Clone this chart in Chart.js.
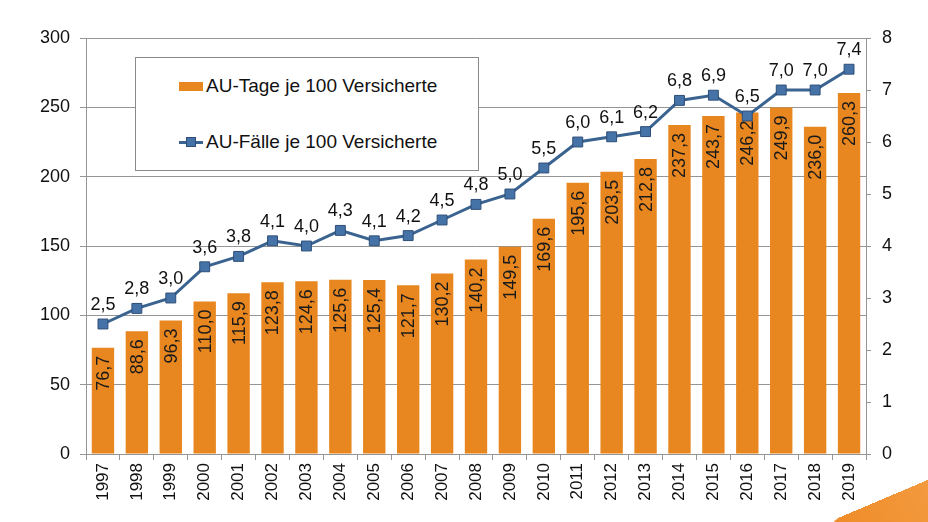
<!DOCTYPE html>
<html>
<head>
<meta charset="utf-8">
<script src="https://cdn.jsdelivr.net/npm/chart.js@4.4.1/dist/chart.umd.min.js"></script>
<style>
	body { margin: 0; background: #fff; overflow: hidden; }
	#wrap { position: relative; width: 928px; height: 522px; overflow: hidden; }
	#legende {
		position: absolute; left: 135px; top: 57px; width: 342px; height: 112px;
		border: 1px solid #8a8a8a; background: #fff;
		font-family: "Liberation Sans", Arial, sans-serif; font-size: 19px; color: #111;
	}
	.eintrag { position: absolute; left: 43px; display: flex; align-items: center; }
	.eintrag span { margin-left: 3px; }
	.balken { width: 24px; height: 9px; background: #E8861F; }
	.linie { position: relative; width: 24px; height: 3px; background: #3B6390; }
	.linie::after {
		content: ""; position: absolute; left: 7px; top: -4px; width: 10px; height: 10px;
		background: #4573A8; border: 1px solid #2E4E78; box-sizing: border-box;
	}
	#swoosh {
		position: absolute; left: 824px; top: 524px; width: 200px; height: 90px;
		border-radius: 18px 0 0 0;
		background: linear-gradient(90deg, #EE8A26 0%, #F39A3E 55%, #F8C185 100%);
		transform: rotate(-23deg); transform-origin: 0 0;
	}
</style>
</head>
<body>
<div id="wrap">
	<canvas id="grafik" width="928" height="522"></canvas>
	<div id="legende">
		<div class="eintrag" style="top:17px"><div class="balken"></div><span>AU-Tage je 100 Versicherte</span></div>
		<div class="eintrag" style="top:73px"><div class="linie"></div><span>AU-Fälle je 100 Versicherte</span></div>
	</div>
	<div id="swoosh"></div>
</div>
<script>
// Daten
const jahre = ["1997", "1998", "1999", "2000", "2001", "2002", "2003", "2004", "2005", "2006", "2007", "2008",
	"2009", "2010", "2011", "2012", "2013", "2014", "2015", "2016", "2017", "2018", "2019"];
const auTage = [76.7, 88.6, 96.3, 110.0, 115.9, 123.8, 124.6, 125.6, 125.4, 121.7, 130.2, 140.2,
	149.5, 169.6, 195.6, 203.5, 212.8, 237.3, 243.7, 246.2, 249.9, 236.0, 260.3];
const auFaelle = [2.5, 2.8, 3.0, 3.6, 3.8, 4.1, 4.0, 4.3, 4.1, 4.2, 4.5, 4.8,
	5.0, 5.5, 6.0, 6.1, 6.2, 6.8, 6.9, 6.5, 7.0, 7.0, 7.4];

const SCHRIFT = "'Liberation Sans', Arial, sans-serif";
const GRAU = "#959595";

function fmt(v) {
	return v.toFixed(1).replace(".", ",");
}

// Beschriftungen der Balken (gedreht) direkt nach den Balken zeichnen
const beschriftung = {
	id: "beschriftung",
	afterDatasetDraw(chart, args) {
		const ctx = chart.ctx;
		if (args.index !== 0) return;
		ctx.save();
		ctx.font = "18px " + SCHRIFT;
		ctx.fillStyle = "#1a1a1a";
		args.meta.data.forEach((el, i) => {
			ctx.save();
			ctx.translate(el.x + 1, el.y + 8);
			ctx.rotate(-Math.PI / 2);
			ctx.textAlign = "right";
			ctx.textBaseline = "middle";
			ctx.fillText(fmt(auTage[i]), 0, 0);
			ctx.restore();
		});
		ctx.restore();
	},
	afterDatasetsDraw(chart) {
		const ctx = chart.ctx;
		const meta = chart.getDatasetMeta(1);
		ctx.save();
		ctx.font = "18px " + SCHRIFT;
		ctx.fillStyle = "#111";
		ctx.textAlign = "center";
		ctx.textBaseline = "alphabetic";
		meta.data.forEach((el, i) => {
			ctx.fillText(fmt(auFaelle[i]), el.x, el.y - 14);
		});
		ctx.restore();
	}
};

new Chart(document.getElementById("grafik"), {
	type: "bar",
	data: {
		labels: jahre,
		datasets: [
			{
				type: "bar",
				label: "AU-Tage je 100 Versicherte",
				data: auTage,
				backgroundColor: "#E8861F",
				yAxisID: "y",
				barPercentage: 0.66,
				categoryPercentage: 1,
				order: 2
			},
			{
				type: "line",
				label: "AU-Fälle je 100 Versicherte",
				data: auFaelle,
				borderColor: "#3B6390",
				borderWidth: 3,
				pointStyle: "rect",
				pointRadius: 7,
				pointBackgroundColor: "#4573A8",
				pointBorderColor: "#2E4E78",
				pointBorderWidth: 1,
				tension: 0,
				yAxisID: "y2",
				order: 1
			}
		]
	},
	options: {
		responsive: false,
		animation: false,
		devicePixelRatio: 1,
		layout: { padding: { top: 38, right: 0, left: 0, bottom: 0 } },
		plugins: { legend: { display: false }, tooltip: { enabled: false } },
		scales: {
			x: {
				offset: true,
				grid: { offset: true, drawOnChartArea: false, tickLength: 6, color: GRAU },
				border: { display: true, color: GRAU },
				ticks: {
					minRotation: 90, maxRotation: 90, padding: 3,
					color: "#111", font: { family: SCHRIFT, size: 17 }
				},
				afterFit: (s) => { s.height = 68; }
			},
			y: {
				position: "left",
				min: 0, max: 300,
				grid: { color: GRAU, tickLength: 6 },
				border: { display: true, color: GRAU },
				ticks: { stepSize: 50, padding: 10, color: "#111", font: { family: SCHRIFT, size: 18 } },
				afterFit: (s) => { s.width = 86; }
			},
			y2: {
				position: "right",
				min: 0, max: 8,
				grid: { drawOnChartArea: false, color: GRAU, tickLength: 5 },
				border: { display: true, color: GRAU },
				ticks: { stepSize: 1, padding: 11, color: "#111", font: { family: SCHRIFT, size: 18 } },
				afterFit: (s) => { s.width = 62; }
			}
		}
	},
	plugins: [beschriftung]
});
</script>
</body>
</html>
